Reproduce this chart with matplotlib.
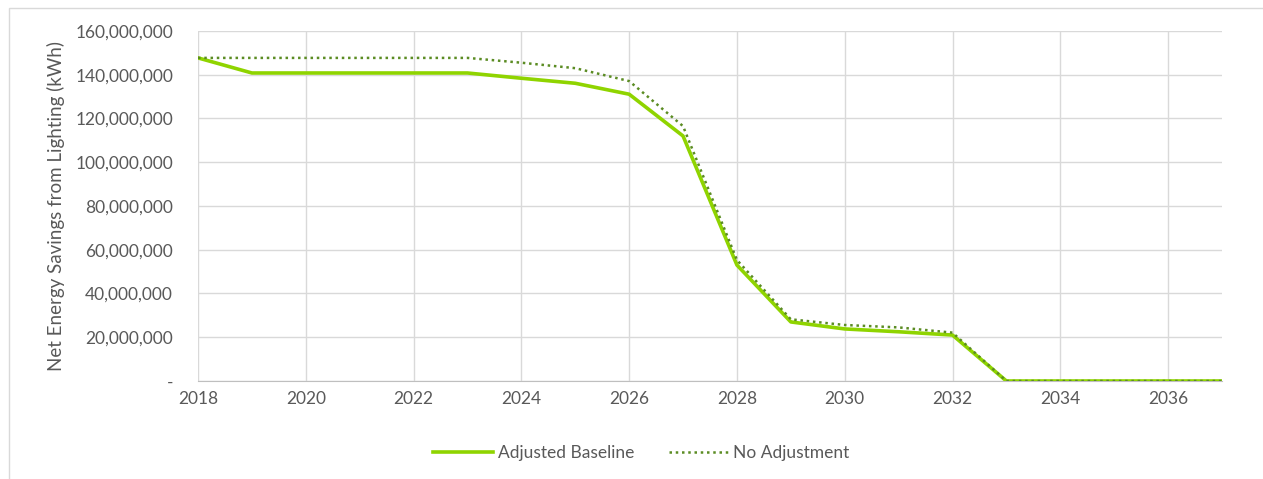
import matplotlib.pyplot as plt
from matplotlib.patches import Rectangle
from matplotlib.ticker import FuncFormatter

years = list(range(2018, 2038))
adjusted = [147.7, 140.8, 140.8, 140.8, 140.8, 140.8, 138.4, 136.1, 131.1, 112.0,
            53.0, 27.0, 23.8, 22.5, 21.0, 0, 0, 0, 0, 0]
no_adjust = [147.7, 147.7, 147.7, 147.7, 147.7, 147.7, 145.5, 143.0, 137.1, 116.5,
             55.3, 28.2, 25.6, 24.5, 22.1, 0, 0, 0, 0, 0]
adjusted = [v * 1e6 for v in adjusted]
no_adjust = [v * 1e6 for v in no_adjust]

plt.rcParams['font.family'] = ['Lato', 'DejaVu Sans']
txt = '#595959'
fs = 12.5

fig = plt.figure(figsize=(12.63, 4.79), dpi=100)
ax = fig.add_axes([0.1568, 0.2046, 0.8107, 0.7307])

# outer chart border
fig.patches.append(Rectangle((9 / 1263, -0.01), 1.0, 1.01 - 8 / 479, transform=fig.transFigure,
                             fill=False, edgecolor='#d9d9d9', linewidth=1.0))

ax.plot(years, adjusted, color='#8fd400', linewidth=2.6, label='Adjusted Baseline', zorder=3)
ax.plot(years, no_adjust, color='#5b8c23', linewidth=1.8, linestyle=(0, (1, 1.5)),
        label='No Adjustment', zorder=4)

ax.set_xlim(2018, 2037)
ax.set_ylim(0, 160e6)
ax.set_xticks(range(2018, 2037, 2))
ax.set_yticks(range(0, 160000001, 20000000))
ax.yaxis.set_major_formatter(FuncFormatter(lambda v, p: '-' if v == 0 else f'{int(v):,}'))
ax.grid(True, color='#d9d9d9', linewidth=1.0)
ax.set_axisbelow(True)
for s in ['top', 'right', 'left']:
    ax.spines[s].set_visible(False)
ax.spines['bottom'].set_color('#bfbfbf')
ax.tick_params(axis='both', length=0, labelsize=fs, labelcolor=txt)
ax.tick_params(axis='y', pad=18)
ax.tick_params(axis='x', pad=7)
ax.set_ylabel('Net Energy Savings from Lighting (kWh)', fontsize=13.5, color=txt, labelpad=7)

leg = ax.legend(loc='center', bbox_to_anchor=(0.433, -0.205), ncol=2, frameon=False,
                fontsize=fs, handlelength=3.4, handletextpad=0.3, columnspacing=2.0)
for t in leg.get_texts():
    t.set_color(txt)

fig.savefig('out.png', dpi=100)
